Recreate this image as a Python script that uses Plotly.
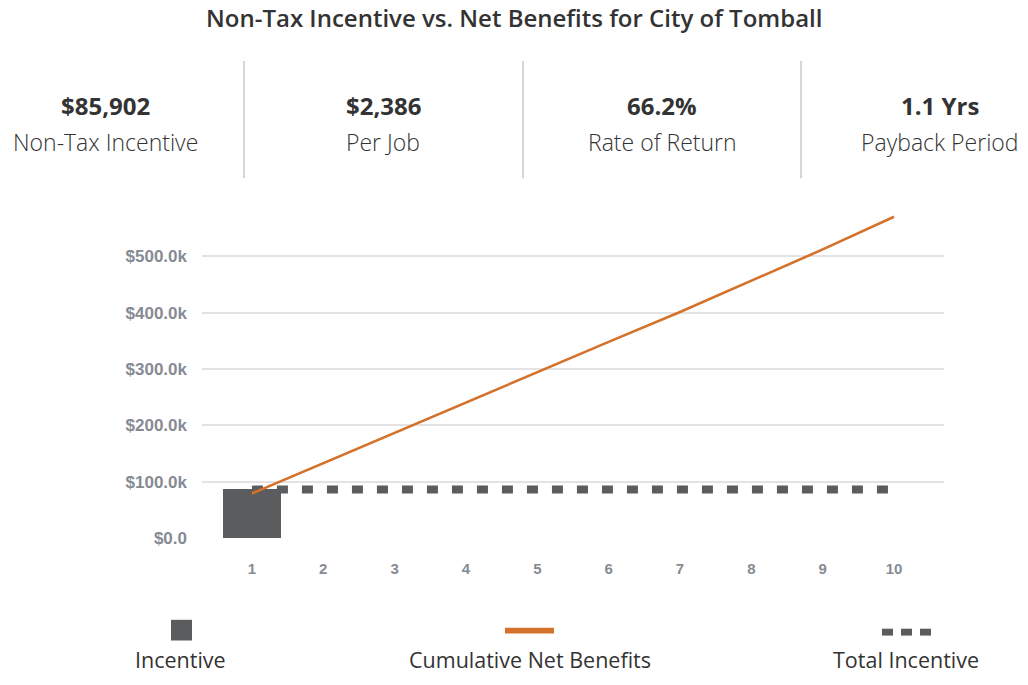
import plotly.graph_objects as go

years = [1, 2, 3, 4, 5, 6, 7, 8, 9, 10]
incentive = [85902, 0, 0, 0, 0, 0, 0, 0, 0, 0]
cumulative_net_benefits = [79000, 133000, 187000, 241000, 295000, 348000, 401000, 456000, 512000, 570000]
total_incentive = [85902] * 10
y_tickvals = [0, 100000, 200000, 300000, 400000, 500000]
y_ticktext = ["$0.0", "$100.0k", "$200.0k", "$300.0k", "$400.0k", "$500.0k"]

kpi_values = ["$85,902", "$2,386", "66.2%", "1.1 Yrs"]
kpi_labels = ["Non-Tax Incentive", "Per Job", "Rate of Return", "Payback Period"]
title_text = "Non-Tax Incentive vs. Net Benefits for City of Tomball"
legend_labels = ["Incentive", "Cumulative Net Benefits", "Total Incentive"]

W, H = 1028, 685
GRAY = "#5b5c5e"
ORANGE = "#d4712a"
TICK = "#868b93"
FONT = "Open Sans"
TFONT = "Liberation Sans"

def px(x):
    return x / W

def py(y):
    return 1 - y / H

fig = go.Figure()
fig.add_trace(go.Bar(x=years[:1], y=incentive[:1], marker=dict(color=GRAY, line=dict(width=0)),
                     width=0.81, name=legend_labels[0], showlegend=False, hoverinfo="skip"))
fig.add_trace(go.Scatter(x=years, y=total_incentive, mode="lines",
                         line=dict(color=GRAY, width=8, dash="11px,14px"),
                         name=legend_labels[2], showlegend=False, hoverinfo="skip"))
fig.add_trace(go.Scatter(x=years, y=cumulative_net_benefits, mode="lines",
                         line=dict(color=ORANGE, width=2.6),
                         name=legend_labels[1], showlegend=False, hoverinfo="skip"))

annotations = [dict(text=title_text, x=0.5, y=py(18), xref="paper", yref="paper",
                    showarrow=False, font=dict(family=FONT, size=24, color="#333333", weight=600),
                    xanchor="center", yanchor="middle")]
centers = [105, 383, 662, 940]
for c, v, l in zip(centers, kpi_values, kpi_labels):
    annotations.append(dict(text=v, x=px(c), y=py(107), xref="paper", yref="paper", showarrow=False,
                            font=dict(family=FONT, size=24, color="#333333", weight=700),
                            xanchor="center", yanchor="middle"))
    annotations.append(dict(text=l, x=px(c), y=py(144), xref="paper", yref="paper", showarrow=False,
                            font=dict(family=FONT, size=23, color="#333333", weight=300),
                            xanchor="center", yanchor="middle"))

shapes = []
for xd in [244, 523, 801]:
    shapes.append(dict(type="line", xref="paper", yref="paper", x0=px(xd), x1=px(xd),
                       y0=py(62), y1=py(181), line=dict(color="#c8c8c8", width=1.5)))

# legend
shapes.append(dict(type="rect", xref="paper", yref="paper", x0=px(171), x1=px(192),
                   y0=py(650), y1=py(629), fillcolor=GRAY, line=dict(width=0)))
shapes.append(dict(type="rect", xref="paper", yref="paper", x0=px(505), x1=px(554),
                   y0=py(643), y1=py(637), fillcolor=ORANGE, line=dict(width=0)))
for x0 in [882, 901, 920]:
    shapes.append(dict(type="rect", xref="paper", yref="paper", x0=px(x0), x1=px(x0 + 11),
                       y0=py(645), y1=py(638), fillcolor=GRAY, line=dict(width=0)))
for c, l in zip([180, 530, 906], legend_labels):
    annotations.append(dict(text=l, x=px(c), y=py(669), xref="paper", yref="paper", showarrow=False,
                            font=dict(family=FONT, size=21.5, color="#333333", weight=400),
                            xanchor="center", yanchor="middle"))

fig.update_layout(
    autosize=True,
    margin=dict(l=0, r=0, t=0, b=0),
    paper_bgcolor="white", plot_bgcolor="white",
    annotations=annotations, shapes=shapes,
    xaxis=dict(domain=[px(202), px(944)], range=[0.3, 10.7], tickvals=years,
               ticktext=["<b>%d</b>" % y for y in years], showgrid=False, zeroline=False,
               tickfont=dict(family=TFONT, size=15, color=TICK),
               ticks="", ticklabelstandoff=20, showline=False, fixedrange=True),
    yaxis=dict(domain=[py(546), py(208.5)], range=[0, 590000], tickvals=y_tickvals,
               ticktext=["<b>%s</b>" % t for t in y_ticktext], showgrid=True, gridcolor="#e3e3e3", gridwidth=1.5,
               zeroline=False, ticks="", ticklabelstandoff=14, fixedrange=True,
               tickfont=dict(family=TFONT, size=17, color=TICK)),
    bargap=0,
)

fig.write_html("out.html", default_width="%dpx" % W, default_height="%dpx; margin:-8px" % H,
               config=dict(displayModeBar=False))
